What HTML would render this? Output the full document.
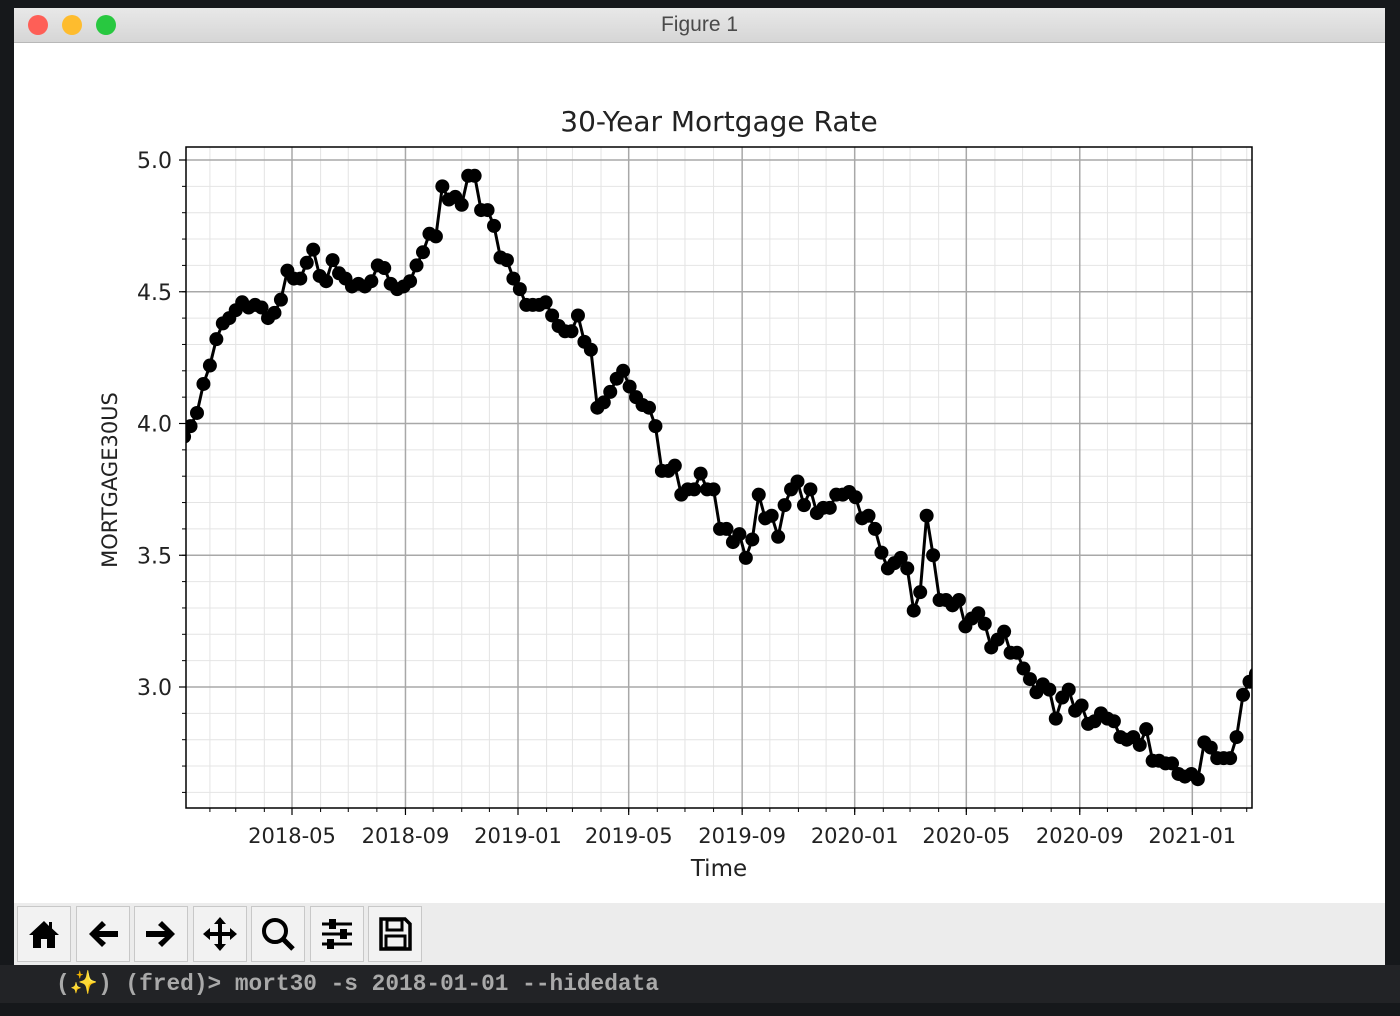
<!DOCTYPE html>
<html><head><meta charset="utf-8"><style>
html,body{margin:0;padding:0;width:1400px;height:1016px;overflow:hidden;background:#16181b;font-family:"Liberation Sans","DejaVu Sans",sans-serif}
#win{position:absolute;left:14px;top:8px;width:1371px;height:957px;background:#fff}
#titlebar{position:absolute;left:0;top:0;width:100%;height:34px;background:linear-gradient(#e8e8e8,#d6d6d6);border-bottom:1px solid #b8b8b8;text-align:center;line-height:34px;font-size:21px;color:#4a4a4a}
.dot{position:absolute;top:7px;width:20px;height:20px;border-radius:50%}
#toolbar{position:absolute;left:0;top:895px;width:100%;height:62px;background:#ececec}
.btn{position:absolute;top:3px;width:52px;height:54px;border:1px solid #c8c8c8;background:#f2f2f2}
.btn svg{position:absolute;left:8px;top:9px}
#term{position:absolute;left:0;top:965px;width:1400px;height:38px;background:#222326;color:#a9a9a9;font-family:"Liberation Mono",monospace;font-size:22.8px;font-weight:bold;line-height:38px}
</style></head><body>
<div id="win">
 <div id="titlebar">Figure 1
  <div class="dot" style="left:14px;background:#fe5f57"></div>
  <div class="dot" style="left:48px;background:#febc2e"></div>
  <div class="dot" style="left:82px;background:#28c840"></div>
 </div>
 <svg id="chart" width="1371" height="860" style="position:absolute;left:0;top:35px"></svg>
 <div id="toolbar">
  <div class="btn" style="left:3px"><svg width="36" height="36" viewBox="0 0 36 36"><path d="M18 5 L3 19 L7 19 L7 32 L15 32 L15 23 L21 23 L21 32 L29 32 L29 19 L33 19 L26 12.5 L26 6 L23 6 L23 10 Z" fill="#000"/></svg></div>
  <div class="btn" style="left:62px"><svg width="36" height="36" viewBox="0 0 36 36"><path d="M4 18 L17 5 L21 9 L14 15 L33 15 L33 21 L14 21 L21 27 L17 31 Z" fill="#000"/></svg></div>
  <div class="btn" style="left:120px"><svg width="36" height="36" viewBox="0 0 36 36"><path d="M32 18 L19 5 L15 9 L22 15 L3 15 L3 21 L22 21 L15 27 L19 31 Z" fill="#000"/></svg></div>
  <div class="btn" style="left:179px"><svg width="36" height="36" viewBox="0 0 36 36"><path d="M18 1 L24 8 L20 8 L20 16 L28 16 L28 12 L35 18 L28 24 L28 20 L20 20 L20 28 L24 28 L18 35 L12 28 L16 28 L16 20 L8 20 L8 24 L1 18 L8 12 L8 16 L16 16 L16 8 L12 8 Z" fill="#000"/></svg></div>
  <div class="btn" style="left:237px"><svg width="36" height="36" viewBox="0 0 36 36"><circle cx="15" cy="15" r="11" fill="none" stroke="#000" stroke-width="4"/><line x1="23" y1="23" x2="33" y2="33" stroke="#000" stroke-width="5"/></svg></div>
  <div class="btn" style="left:296px"><svg width="36" height="36" viewBox="0 0 36 36"><g stroke="#000" stroke-width="3"><line x1="3" y1="8" x2="33" y2="8"/><line x1="3" y1="18" x2="33" y2="18"/><line x1="3" y1="28" x2="33" y2="28"/></g><rect x="10" y="3" width="7" height="10" fill="#000"/><rect x="21" y="13" width="7" height="10" fill="#000"/><rect x="8" y="23" width="7" height="10" fill="#000"/></svg></div>
  <div class="btn" style="left:354px"><svg width="36" height="36" viewBox="0 0 36 36"><path d="M4 3 L28 3 L33 8 L33 33 L4 33 Z" fill="none" stroke="#000" stroke-width="3.5"/><rect x="10" y="4" width="15" height="10" fill="none" stroke="#000" stroke-width="3"/><rect x="9" y="20" width="19" height="12" fill="none" stroke="#000" stroke-width="3"/></svg></div>
 </div>
</div>
<div id="term"><span style="position:absolute;left:56px">(✨) (fred)&gt; mort30 -s 2018-01-01 --hidedata</span></div>
<script>
const startDate = "2018-01-04";
const rates = [
3.95,3.99,4.04,4.15,4.22,4.32,4.38,4.40,4.43,4.46,4.44,4.45,4.44,4.40,4.42,4.47,4.58,4.55,4.55,4.61,4.66,4.56,4.54,4.62,4.57,4.55,4.52,4.53,4.52,4.54,4.60,4.59,4.53,4.51,4.52,4.54,4.60,4.65,4.72,4.71,4.90,4.85,4.86,4.83,4.94,4.94,4.81,4.81,4.75,4.63,4.62,4.55,
4.51,4.45,4.45,4.45,4.46,4.41,4.37,4.35,4.35,4.41,4.31,4.28,4.06,4.08,4.12,4.17,4.20,4.14,4.10,4.07,4.06,3.99,3.82,3.82,3.84,3.73,3.75,3.75,3.81,3.75,3.75,3.60,3.60,3.55,3.58,3.49,3.56,3.73,3.64,3.65,3.57,3.69,3.75,3.78,3.69,3.75,3.66,3.68,3.68,3.73,3.73,3.74,
3.72,3.64,3.65,3.60,3.51,3.45,3.47,3.49,3.45,3.29,3.36,3.65,3.50,3.33,3.33,3.31,3.33,3.23,3.26,3.28,3.24,3.15,3.18,3.21,3.13,3.13,3.07,3.03,2.98,3.01,2.99,2.88,2.96,2.99,2.91,2.93,2.86,2.87,2.90,2.88,2.87,2.81,2.80,2.81,2.78,2.84,2.72,2.72,2.71,2.71,2.67,2.66,2.67,
2.65,2.79,2.77,2.73,2.73,2.73,2.81,2.97,3.02,3.05];
const yTicks = [3.0,3.5,4.0,4.5,5.0];
const yLabels = ["3.0","3.5","4.0","4.5","5.0"];
const xTickDates = ["2018-05-01","2018-09-01","2019-01-01","2019-05-01","2019-09-01","2020-01-01","2020-05-01","2020-09-01","2021-01-01"];
const xLabels = ["2018-05","2018-09","2019-01","2019-05","2019-09","2020-01","2020-05","2020-09","2021-01"];

const OX=14, OY=43;
const L=186-OX, R=1252-OX, T=147-OY, B=808-OY;
const DAY=86400000;
const d0=Date.parse("2018-05-01"), d1=Date.parse("2019-01-01");
const pxPerDay=(518-292)/((d1-d0)/DAY);
function xs(t){return 292-OX+((t-d0)/DAY)*pxPerDay;}
function ys(v){return 687-OY-(v-3.0)*263.5;}
const NS="http://www.w3.org/2000/svg";
const svg=document.getElementById('chart');
function mk(tag,attrs,parent){const e=document.createElementNS(NS,tag);for(const k in attrs)e.setAttribute(k,attrs[k]);(parent||svg).appendChild(e);return e;}

for(let y=2018;y<=2021;y++)for(let m=0;m<12;m++){
 const t=Date.UTC(y,m,1);const x=xs(t);
 if(x>L&&x<R){const l=mk('line',{x1:x,x2:x,y1:T,y2:B,stroke:'#e4e4e4','stroke-width':1});
 
 const tk=mk('line',{x1:x,x2:x,y1:B,y2:B+4,stroke:'#000','stroke-width':1});
 }
}
for(let i=26;i<=50;i++){const v=i/10;const y=ys(v);
 if(y>T&&y<B){const l=mk('line',{x1:L,x2:R,y1:y,y2:y,stroke:'#e4e4e4','stroke-width':1});
 
 const tk=mk('line',{x1:L-4,x2:L,y1:y,y2:y,stroke:'#000','stroke-width':1});
 }}
yTicks.forEach((v,i)=>{const y=ys(v);
 const g=mk('line',{x1:L,x2:R,y1:y,y2:y,stroke:'#a8a8a8','stroke-width':1.5});
 
 mk('line',{x1:L-7,x2:L,y1:y,y2:y,stroke:'#000','stroke-width':1.2});
 const t=mk('text',{x:L-14,y:y+8,'text-anchor':'end','font-size':22,'font-family':'DejaVu Sans, sans-serif',fill:'#222'});t.textContent=yLabels[i];
 });
xTickDates.forEach((d,i)=>{const x=xs(Date.parse(d));
 const g=mk('line',{x1:x,x2:x,y1:T,y2:B,stroke:'#a8a8a8','stroke-width':1.5});
 
 mk('line',{x1:x,x2:x,y1:B,y2:B+7,stroke:'#000','stroke-width':1.2});
 const t=mk('text',{x:x,y:B+35,'text-anchor':'middle','font-size':21,'font-family':'DejaVu Sans, sans-serif',fill:'#222'});t.textContent=xLabels[i];
 });
const s0=Date.parse(startDate);
const pts=rates.map((v,i)=>[xs(s0+i*7*DAY),ys(v)]);
const clip=mk('clipPath',{id:'pc'});mk('rect',{x:L,y:T,width:R-L,height:B-T},clip);
const g=mk('g',{'clip-path':'url(#pc)'});
const line=mk('polyline',{points:pts.map(p=>p.join(',')).join(' '),fill:'none',stroke:'#000','stroke-width':3},g);

pts.forEach(p=>{const c=mk('circle',{cx:p[0],cy:p[1],r:7,fill:'#000'},g);
 });
const fr=mk('rect',{x:L,y:T,width:R-L,height:B-T,fill:'none',stroke:'#000','stroke-width':1.5});

const ti=mk('text',{x:719-OX,y:131-OY,'text-anchor':'middle','font-size':28,'font-family':'DejaVu Sans, sans-serif',fill:'#222'});ti.textContent='30-Year Mortgage Rate';

const xt=mk('text',{x:719-OX,y:876-OY,'text-anchor':'middle','font-size':23,'font-family':'DejaVu Sans, sans-serif',fill:'#222'});xt.textContent='Time';

const yt=mk('text',{x:0,y:0,'text-anchor':'middle','font-size':21,'font-family':'DejaVu Sans, sans-serif',fill:'#222',transform:`translate(${117-OX},${480-OY}) rotate(-90)`});yt.textContent='MORTGAGE30US';

</script>
</body></html>
